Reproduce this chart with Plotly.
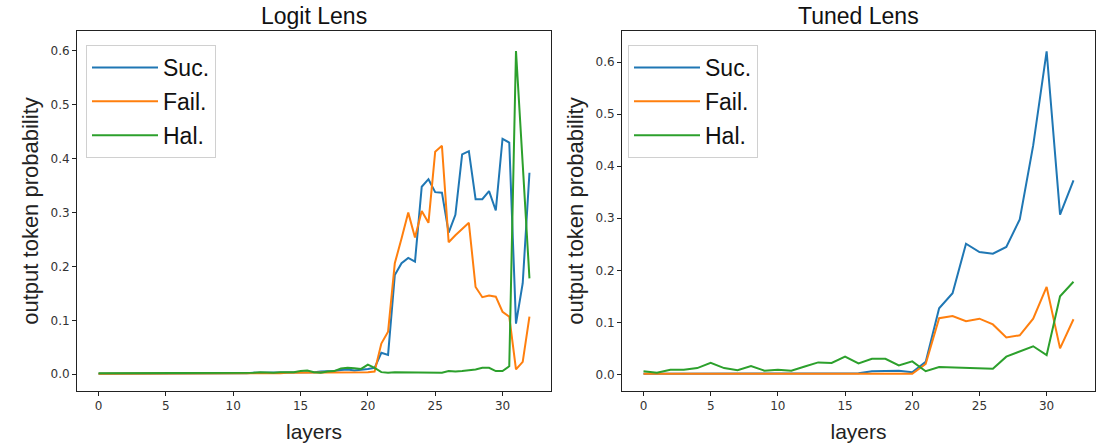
import numpy as np
import plotly.graph_objects as go

# ---------------- data ----------------
layers_logit = np.arange(0, 32.5, 0.5)  # 65 half-layer positions
logit_suc = [0.001, 0.001, 0.001, 0.001, 0.001, 0.001, 0.001, 0.001, 0.001, 0.001,
             0.001, 0.001, 0.002, 0.002, 0.002, 0.002, 0.002, 0.002, 0.002, 0.002,
             0.002, 0.002, 0.002, 0.003, 0.003, 0.003, 0.003, 0.003, 0.003, 0.004,
             0.004, 0.004, 0.004, 0.005, 0.005, 0.006, 0.008, 0.009, 0.007, 0.008,
             0.010, 0.012, 0.040, 0.036, 0.184, 0.206, 0.216, 0.209, 0.348, 0.362,
             0.338, 0.337, 0.263, 0.296, 0.408, 0.414, 0.325, 0.325, 0.340, 0.304,
             0.437, 0.430, 0.094, 0.169, 0.374]
logit_fail = [0.001, 0.001, 0.001, 0.001, 0.001, 0.001, 0.001, 0.001, 0.001, 0.001,
              0.001, 0.001, 0.001, 0.001, 0.001, 0.001, 0.002, 0.002, 0.002, 0.002,
              0.002, 0.002, 0.002, 0.002, 0.002, 0.002, 0.002, 0.002, 0.003, 0.003,
              0.003, 0.003, 0.003, 0.003, 0.003, 0.003, 0.004, 0.004, 0.004, 0.004,
              0.004, 0.005, 0.057, 0.079, 0.206, 0.252, 0.300, 0.254, 0.303, 0.281,
              0.413, 0.424, 0.245, 0.258, 0.270, 0.281, 0.162, 0.143, 0.146, 0.144,
              0.116, 0.107, 0.009, 0.023, 0.107]
logit_hal = [0.002, 0.002, 0.002, 0.002, 0.002, 0.002, 0.002, 0.002, 0.002, 0.002,
             0.002, 0.002, 0.002, 0.002, 0.002, 0.003, 0.003, 0.003, 0.003, 0.003,
             0.003, 0.003, 0.003, 0.003, 0.004, 0.003, 0.003, 0.004, 0.004, 0.004,
             0.006, 0.007, 0.004, 0.003, 0.005, 0.006, 0.011, 0.012, 0.011, 0.010,
             0.018, 0.012, 0.004, 0.003, 0.004, 0.004, 0.003, 0.003, 0.004, 0.003,
             0.003, 0.003, 0.006, 0.005, 0.006, 0.007, 0.009, 0.012, 0.012, 0.006,
             0.006, 0.015, 0.600, 0.390, 0.178]

layers_tuned = np.arange(0, 33)
tuned_suc = [0.001, 0.001, 0.001, 0.001, 0.001, 0.001, 0.001, 0.001, 0.001, 0.001,
             0.001, 0.001, 0.001, 0.001, 0.001, 0.001, 0.002, 0.006, 0.007, 0.007,
             0.004, 0.024, 0.127, 0.156, 0.251, 0.235, 0.232, 0.245, 0.298, 0.440,
             0.621, 0.307, 0.373]
tuned_fail = [0.001, 0.001, 0.001, 0.001, 0.001, 0.001, 0.001, 0.001, 0.001, 0.001,
              0.001, 0.001, 0.001, 0.001, 0.001, 0.001, 0.001, 0.001, 0.001, 0.001,
              0.001, 0.020, 0.108, 0.112, 0.102, 0.107, 0.096, 0.071, 0.075, 0.107,
              0.168, 0.050, 0.106]
tuned_hal = [0.006, 0.003, 0.009, 0.009, 0.012, 0.022, 0.012, 0.008, 0.016, 0.007,
             0.009, 0.007, 0.015, 0.023, 0.022, 0.034, 0.021, 0.030, 0.030, 0.017,
             0.025, 0.006, 0.014, 0.013, 0.012, 0.011, 0.011, 0.034, 0.044, 0.054,
             0.037, 0.150, 0.178]

series_names = ["Suc.", "Fail.", "Hal."]
colors = ["#1f77b4", "#ff7f0e", "#2ca02c"]
x_ticks = [0, 5, 10, 15, 20, 25, 30]
y_ticks = [0.0, 0.1, 0.2, 0.3, 0.4, 0.5, 0.6]

# ---------------- figure ----------------
fig = go.Figure()

for name, col, ys in zip(series_names, colors, [logit_suc, logit_fail, logit_hal]):
    fig.add_trace(go.Scatter(x=layers_logit, y=ys, mode="lines", name=name,
                             line=dict(color=col, width=2), xaxis="x", yaxis="y",
                             legend="legend", legendgroup="L" + name))
for name, col, ys in zip(series_names, colors, [tuned_suc, tuned_fail, tuned_hal]):
    fig.add_trace(go.Scatter(x=layers_tuned, y=ys, mode="lines", name=name,
                             line=dict(color=col, width=2), xaxis="x2", yaxis="y2",
                             legend="legend2", legendgroup="T" + name))

W, H = 1107, 444
ydom = [(H - 391) / H, (H - 31) / H]

axis_common = dict(showgrid=False, zeroline=False, showline=True, linecolor="#222",
                   linewidth=1, mirror=True, ticks="outside", ticklen=4,
                   tickcolor="#222", tickfont=dict(family="DejaVu Sans", size=12, color="#333"))
xtitle_font = dict(family="Liberation Sans", size=21, color="#222")
ytitle_font = dict(family="Liberation Sans", size=22, color="#222")
legend_common = dict(xanchor="left", yanchor="top",
                     bgcolor="rgba(255,255,255,0.85)", bordercolor="#d0d0d0", borderwidth=1,
                     font=dict(family="Liberation Sans", size=23, color="#111"),
                     tracegroupgap=1, itemwidth=66)

fig.update_layout(
    width=W, height=H,
    margin=dict(l=0, r=0, t=0, b=0),
    paper_bgcolor="white", plot_bgcolor="white",
    xaxis=dict(domain=[77 / W, 551 / W], range=[-1.6, 33.6], tickvals=x_ticks,
               title=dict(text="layers", font=xtitle_font, standoff=11), anchor="y", **axis_common),
    yaxis=dict(domain=ydom, range=[-0.031, 0.637], tickvals=y_ticks, tickformat=".1f",
               title=dict(text="output token probability", font=ytitle_font, standoff=5),
               anchor="x", **axis_common),
    xaxis2=dict(domain=[622 / W, 1095 / W], range=[-1.6, 33.6], tickvals=x_ticks,
                title=dict(text="layers", font=xtitle_font, standoff=11), anchor="y2", **axis_common),
    yaxis2=dict(domain=ydom, range=[-0.032, 0.66], tickvals=y_ticks, tickformat=".1f",
                title=dict(text="output token probability", font=ytitle_font, standoff=5),
                anchor="x2", **axis_common),
    legend=dict(x=86 / W, y=1 - 45 / H, **legend_common),
    legend2=dict(x=628 / W, y=1 - 45 / H, **legend_common),
    annotations=[
        dict(text="Logit Lens", x=(77 + 551) / 2 / W, y=1 - 16 / H, xref="paper", yref="paper",
             showarrow=False, font=dict(family="Liberation Sans", size=23, color="#111"),
             xanchor="center", yanchor="middle"),
        dict(text="Tuned Lens", x=(622 + 1095) / 2 / W, y=1 - 16 / H, xref="paper", yref="paper",
             showarrow=False, font=dict(family="Liberation Sans", size=23, color="#111"),
             xanchor="center", yanchor="middle"),
    ],
)

fig.write_html("out.html")
